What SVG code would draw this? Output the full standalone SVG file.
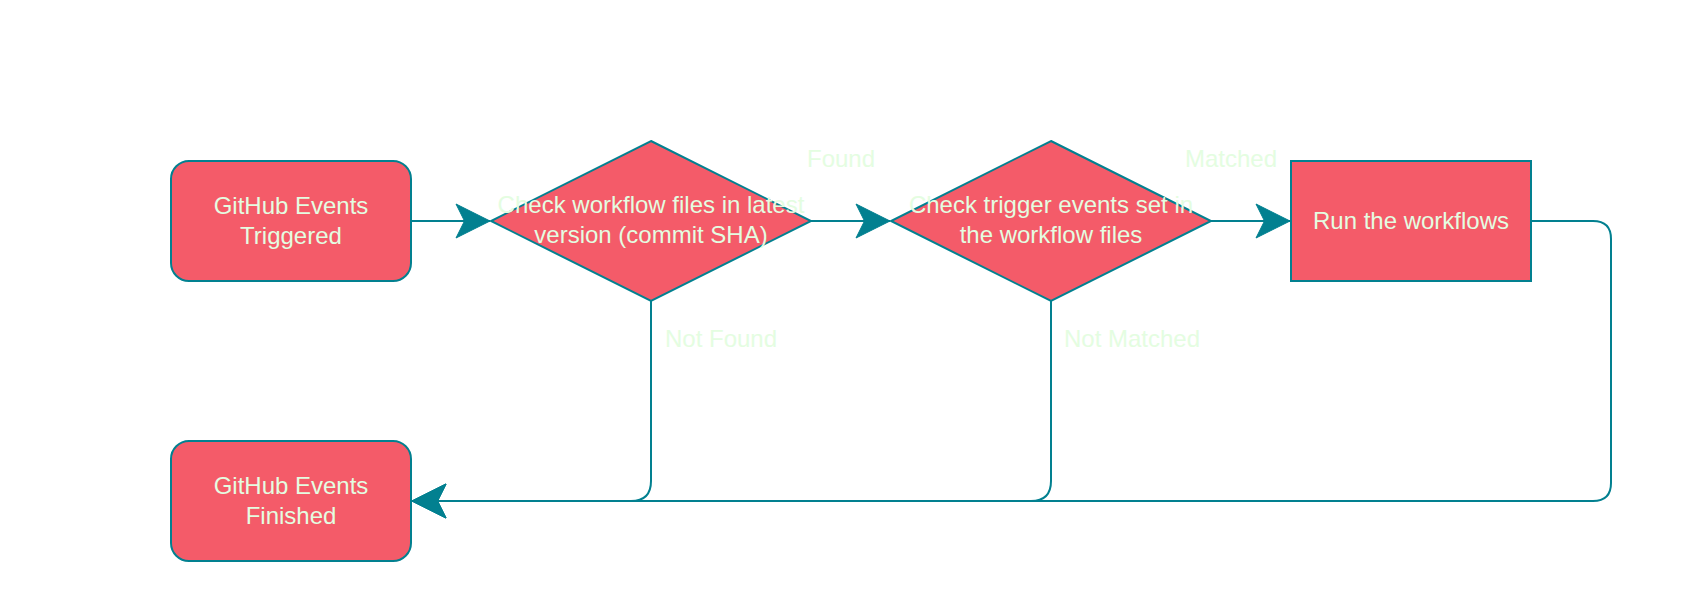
<svg xmlns="http://www.w3.org/2000/svg" width="1684" height="602" viewBox="0 0 1684 602">
<style>
.node{fill:#F45B69;stroke:#028090;stroke-width:2}
.t{font-family:"Liberation Sans",Arial,sans-serif;font-size:24px;fill:#E4FDE1;text-anchor:middle}
.lbl{font-family:"Liberation Sans",Arial,sans-serif;font-size:24px;fill:#E4FDE1}
.edge{fill:none;stroke:#028090;stroke-width:2}
</style>
<defs>
<marker id="arr" markerUnits="userSpaceOnUse" viewBox="-36 -19 38 38" markerWidth="38" markerHeight="38" refX="0" refY="0" orient="auto">
<path d="M0,0 L-34,-17 L-25.5,0 L-34,17 Z" fill="#028090" stroke="#028090" stroke-width="1"/>
</marker>
</defs>
<rect width="1684" height="602" fill="#ffffff"/>
<g id="connectors">
<path class="edge" d="M411,221 L490,221" marker-end="url(#arr)"/>
<path class="edge" d="M811,221 L890,221" marker-end="url(#arr)"/>
<path class="edge" d="M1211,221 L1290,221" marker-end="url(#arr)"/>
<path class="edge" d="M651,301 L651,481 Q651,501 631,501 L412,501" marker-end="url(#arr)"/>
<path class="edge" d="M1051,301 L1051,481 Q1051,501 1031,501 L412,501" marker-end="url(#arr)"/>
<path class="edge" d="M1531,221 L1593,221 Q1611,221 1611,239 L1611,483 Q1611,501 1593,501 L412,501" marker-end="url(#arr)"/>
<text class="lbl" x="841" y="167" text-anchor="middle">Found</text>
<text class="lbl" x="1231" y="167" text-anchor="middle">Matched</text>
<text class="lbl" x="665" y="347">Not Found</text>
<text class="lbl" x="1064" y="347">Not Matched</text>
</g>
<g id="start">
<rect class="node" x="171" y="161" width="240" height="120" rx="18" ry="18"/>
<text class="t" x="291" y="213.5">GitHub Events</text>
<text class="t" x="291" y="243.5">Triggered</text>
</g>
<g id="check-files">
<polygon class="node" points="651,141 811,221 651,301 491,221"/>
<text class="t" x="651" y="213">Check workflow files in latest</text>
<text class="t" x="651" y="243">version (commit SHA)</text>
</g>
<g id="check-trigger">
<polygon class="node" points="1051,141 1211,221 1051,301 891,221"/>
<text class="t" x="1051" y="213">Check trigger events set in</text>
<text class="t" x="1051" y="243">the workflow files</text>
</g>
<g id="run">
<rect class="node" x="1291" y="161" width="240" height="120"/>
<text class="t" x="1411" y="229">Run the workflows</text>
</g>
<g id="finished">
<rect class="node" x="171" y="441" width="240" height="120" rx="18" ry="18"/>
<text class="t" x="291" y="493.5">GitHub Events</text>
<text class="t" x="291" y="523.5">Finished</text>
</g>
</svg>
